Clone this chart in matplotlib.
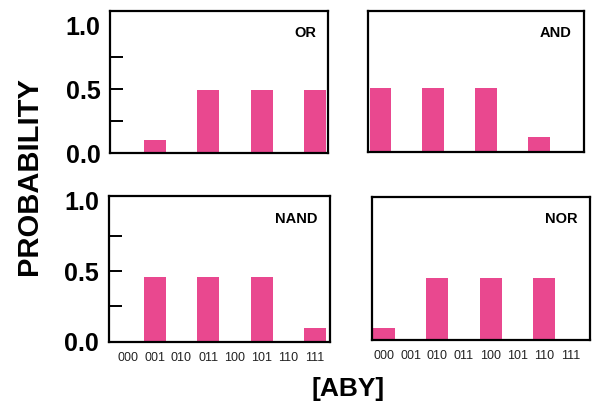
import matplotlib.pyplot as plt
import numpy as np

plt.rcParams['font.family'] = ['Liberation Sans', 'DejaVu Sans']

# truth-table states on the x axis
states = ['000', '001', '010', '011', '100', '101', '110', '111']

# measured output probabilities per gate
or_prob = [0.0, 0.10, 0.0, 0.49, 0.0, 0.49, 0.0, 0.49]
and_prob = [0.50, 0.0, 0.50, 0.0, 0.50, 0.0, 0.12, 0.0]
nand_prob = [0.0, 0.46, 0.0, 0.46, 0.0, 0.46, 0.0, 0.10]
nor_prob = [0.09, 0.0, 0.45, 0.0, 0.45, 0.0, 0.45, 0.0]

bar_color = '#E9488F'


def draw_panel(ax, values, name, xlim, ylim, show_y, show_x):
    x = np.arange(len(states))
    ax.bar(x, values, width=0.82, color=bar_color, zorder=1)
    ax.set_xlim(*xlim)
    ax.set_ylim(*ylim)
    for s in ax.spines.values():
        s.set_linewidth(1.6)
        s.set_zorder(3)
    ax.text(0.945, 0.845, name, transform=ax.transAxes, ha='right', va='center',
            fontsize=10.5, fontweight='bold')

    if show_x:
        ax.set_xticks(x)
        ax.set_xticklabels(states, fontsize=9, color='#222222')
        ax.tick_params(axis='x', length=0, pad=7)
    else:
        ax.set_xticks([])

    if show_y:
        ax.set_yticks([0.0, 0.5, 1.0])
        ax.set_yticklabels(['0.0', '0.5', '1.0'], fontsize=18, fontweight='bold')
        ax.set_yticks([0.25, 0.75], minor=True)
        ax.tick_params(axis='y', which='both', direction='in', length=9.5,
                       width=1.4, pad=7)
        ticks = ax.yaxis.get_major_ticks()
        ticks[0].tick1line.set_visible(False)
        ticks[2].tick1line.set_visible(False)
    else:
        ax.set_yticks([])


fig = plt.figure(figsize=(5.95, 4.05), dpi=100)

ax_or = fig.add_axes([0.185, 0.622, 0.366, 0.351])
ax_and = fig.add_axes([0.618, 0.625, 0.363, 0.348])
ax_nand = fig.add_axes([0.183, 0.156, 0.371, 0.360])
ax_nor = fig.add_axes([0.625, 0.160, 0.366, 0.353])

draw_panel(ax_or, or_prob, 'OR', (-0.67, 7.47), (0, 1.11), True, False)
draw_panel(ax_and, and_prob, 'AND', (-0.48, 7.7), (0, 1.11), False, False)
draw_panel(ax_nand, nand_prob, 'NAND', (-0.72, 7.55), (0, 1.03), True, True)
draw_panel(ax_nor, nor_prob, 'NOR', (-0.45, 7.7), (0, 1.03), False, True)

fig.text(0.048, 0.565, 'PROBABILITY', rotation=90, ha='center', va='center',
         fontsize=21, fontweight='bold')
fig.text(0.585, 0.040, '[ABY]', ha='center', va='center',
         fontsize=19, fontweight='bold')

fig.savefig('out.png', dpi=100)
